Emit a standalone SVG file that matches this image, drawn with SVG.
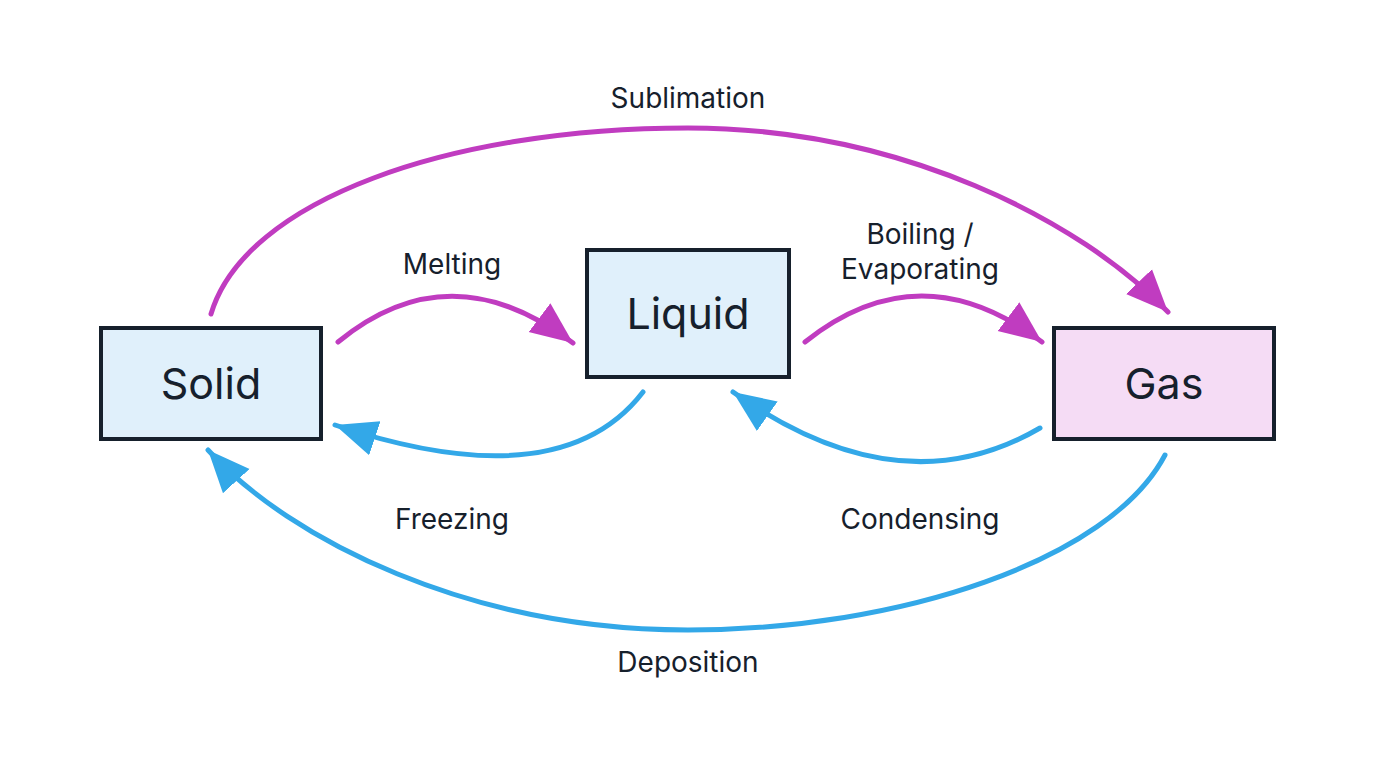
<svg xmlns="http://www.w3.org/2000/svg" width="1376" height="768" viewBox="0 0 1376 768">
<style>
.node{stroke:#16202c;stroke-width:4}
.nl{font-family:Inter,"Noto Sans",sans-serif;font-size:43px;fill:#16202c;text-anchor:middle}
.el{font-family:Inter,"Noto Sans",sans-serif;font-size:28px;fill:#16202c;text-anchor:middle}
.m{fill:none;stroke:#c03cc0;stroke-width:5;stroke-linecap:round}
.b{fill:none;stroke:#33a8e8;stroke-width:5;stroke-linecap:round}
</style>
<defs>
<marker id="am" markerUnits="userSpaceOnUse" markerWidth="44" markerHeight="40" viewBox="0 0 44 40" refX="42" refY="20" orient="auto"><path d="M0,2 L42,20 L0,38 Z" fill="#c03cc0"/></marker>
<marker id="ab" markerUnits="userSpaceOnUse" markerWidth="44" markerHeight="40" viewBox="0 0 44 40" refX="42" refY="20" orient="auto"><path d="M0,2 L42,20 L0,38 Z" fill="#33a8e8"/></marker>
</defs>
<rect width="1376" height="768" fill="#fff"/>
<g id="connectors">
<path class="m" d="M211,314 C245,200 450,128 688,128 C900,128 1080,220 1168,312" marker-end="url(#am)"/>
<path class="m" d="M338,342 Q450,250 573,343" marker-end="url(#am)"/>
<path class="m" d="M805,342 Q920,250 1042,342" marker-end="url(#am)"/>
<path class="b" d="M643,392 Q560,500 335,425" marker-end="url(#ab)"/>
<path class="b" d="M1040,428 Q900,510 733,392" marker-end="url(#ab)"/>
<path class="b" d="M1165,455 C1110,560 900,630 688,630 C470,630 290,540 208,450" marker-end="url(#ab)"/>
</g>
<g id="labels">
<text class="el" x="688" y="108">Sublimation</text>
<text class="el" x="452" y="274">Melting</text>
<text class="el" x="920" y="244">Boiling /</text>
<text class="el" x="920" y="279">Evaporating</text>
<text class="el" x="452" y="529">Freezing</text>
<text class="el" x="920" y="529">Condensing</text>
<text class="el" x="688" y="672">Deposition</text>
</g>
<g id="solid"><rect class="node" x="101" y="328" width="220" height="111" fill="#e0f0fb"/><text class="nl" x="211" y="399">Solid</text></g>
<g id="liquid"><rect class="node" x="587" y="250" width="202" height="127" fill="#e0f0fb"/><text class="nl" x="688" y="329">Liquid</text></g>
<g id="gas"><rect class="node" x="1054" y="328" width="220" height="111" fill="#f5dcf5"/><text class="nl" x="1164" y="399">Gas</text></g>
</svg>
